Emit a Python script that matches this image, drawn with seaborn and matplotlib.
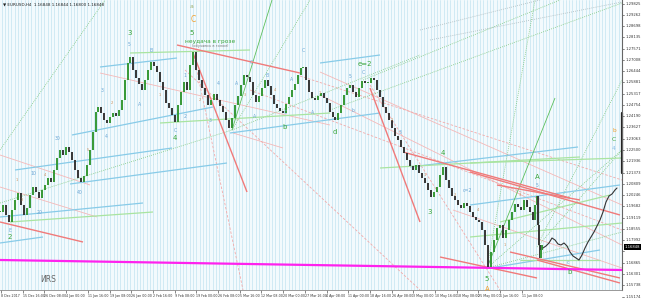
import numpy as np
import pandas as pd
import matplotlib
matplotlib.use("Agg")
import matplotlib.pyplot as plt
import seaborn as sns

# ---------------- data ----------------
bar_x = [0, 3, 6, 9, 12, 15, 18, 21, 24, 27, 30, 33, 36, 39, 42, 45, 48, 51, 54, 57,
         60, 63, 66, 69, 72, 75, 78, 81, 84, 87, 90, 93, 96, 98, 101, 104, 107, 110, 113, 116,
         119, 122, 125, 128, 130, 133, 136, 139, 142, 145, 148, 151, 154, 157, 160, 163, 166, 169, 172, 175,
         178, 181, 184, 187, 190, 193, 196, 199, 202, 205, 208, 211, 214, 217, 220, 223, 226, 229, 232, 235,
         238, 241, 244, 247, 250, 253, 256, 259, 262, 265, 268, 271, 274, 277, 280, 283, 286, 289, 292, 295,
         298, 301, 303, 306, 309, 312, 315, 318, 321, 324, 327, 330, 333, 335, 338, 341, 344, 347, 350, 353,
         356, 359, 362, 365, 368, 371, 374, 377, 380, 383, 386, 389, 392, 395, 398, 401, 404, 407, 410, 413,
         416, 419, 422, 425, 428, 431, 434, 437, 440, 443, 446, 449, 452, 455, 458, 461, 464, 467, 470, 473,
         476, 479, 482, 485, 488, 491, 494, 497, 500, 503, 506, 509, 512, 515, 518, 521, 524, 527, 530, 533,
         535, 537, 538, 539, 540, 541, 542]
closes = [1.194, 1.1975, 1.1925, 1.189, 1.195, 1.2, 1.2035, 1.1975, 1.1925, 1.196, 1.2025, 1.2065, 1.204, 1.201, 1.205, 1.2075, 1.211, 1.209, 1.215, 1.221,
          1.225, 1.2225, 1.2265, 1.224, 1.22, 1.215, 1.211, 1.209, 1.212, 1.2175, 1.225, 1.234, 1.244, 1.2465, 1.2435, 1.24, 1.2385, 1.2415, 1.2435, 1.242,
          1.245, 1.25, 1.26, 1.2685, 1.2715, 1.265, 1.261, 1.258, 1.255, 1.26, 1.265, 1.269, 1.267, 1.264, 1.259, 1.255, 1.2485, 1.246, 1.2425, 1.239,
          1.2475, 1.254, 1.259, 1.255, 1.2675, 1.274, 1.265, 1.26, 1.256, 1.2525, 1.2475, 1.25, 1.253, 1.25, 1.247, 1.244, 1.24, 1.236, 1.241, 1.2475,
          1.252, 1.2575, 1.2625, 1.2615, 1.259, 1.2525, 1.249, 1.252, 1.256, 1.26, 1.257, 1.2525, 1.248, 1.246, 1.2445, 1.2435, 1.248, 1.2515, 1.255, 1.258,
          1.2625, 1.266, 1.2665, 1.26, 1.254, 1.251, 1.25, 1.252, 1.2535, 1.251, 1.2485, 1.244, 1.2415, 1.24, 1.2435, 1.2475, 1.2525, 1.256, 1.2575, 1.254,
          1.2515, 1.256, 1.2595, 1.2585, 1.2585, 1.261, 1.26, 1.255, 1.2515, 1.2465, 1.2435, 1.24, 1.236, 1.232, 1.23, 1.2265, 1.2235, 1.22, 1.217, 1.215,
          1.2175, 1.2135, 1.211, 1.2085, 1.205, 1.2015, 1.204, 1.2065, 1.2125, 1.2165, 1.21, 1.206, 1.202, 1.2, 1.1975, 1.196, 1.1985, 1.197, 1.194, 1.1915,
          1.19, 1.189, 1.185, 1.1775, 1.1665, 1.174, 1.18, 1.186, 1.1875, 1.181, 1.185, 1.19, 1.194, 1.198, 1.1965, 1.195, 1.2, 1.1965, 1.194, 1.19,
          1.1975, 1.202, 1.1875, 1.1775, 1.171, 1.175, 1.1775]

proj_x = [543, 546, 549, 552, 555, 558, 561, 564, 567, 570, 573, 576, 579, 582, 585, 588, 591, 594, 597, 600, 603, 606, 609, 612, 615, 617]
proj_p = [1.176, 1.177, 1.1785, 1.181, 1.18, 1.178, 1.1775, 1.1785, 1.177, 1.174, 1.172, 1.171, 1.17, 1.1725, 1.176, 1.179,
          1.1815, 1.184, 1.187, 1.19, 1.194, 1.199, 1.202, 1.203, 1.205, 1.206]

magenta_x = [0, 622]
magenta_p = [1.17, 1.165]

date_pos = [1, 22.7, 44.4, 66.1, 87.8, 109.5, 131.2, 152.9, 174.6, 196.3, 218, 239.7, 261.4, 283.1,
            304.8, 326.5, 348.2, 369.9, 391.6, 413.3, 435, 456.7, 478.4, 500.1, 521.8]
date_labels = ["8 Dec 2017", "15 Dec 16:00", "26 Dec 08:00", "4 Jan 00:00", "11 Jan 16:00", "19 Jan 08:00",
               "26 Jan 00:00", "2 Feb 16:00", "9 Feb 08:00", "19 Feb 00:00", "26 Feb 08:00", "5 Mar 16:00",
               "12 Mar 08:00", "20 Mar 00:00", "27 Mar 16:00", "4 Apr 08:00", "11 Apr 00:00", "18 Apr 16:00",
               "26 Apr 08:00", "3 May 00:00", "10 May 16:00", "18 May 08:00", "25 May 00:00", "1 Jun 16:00",
               "11 Jun 08:00"]

price_ticks = [1.29825, 1.29262, 1.28698, 1.28135, 1.27571, 1.27008, 1.26444, 1.25881, 1.25317, 1.24754,
               1.24190, 1.23627, 1.23063, 1.22500, 1.21936, 1.21373, 1.20809, 1.20246, 1.19682, 1.19119,
               1.18555, 1.17992, 1.17428, 1.16865, 1.16301, 1.15738, 1.15174]
price_labels = ["%.5f" % v for v in price_ticks]
current_price = 1.1765
current_label = "1.16848"
header = "\u25bc EURUSD,H4  1.16848 1.16844 1.16800 1.16848"

red_lines = [(177, 1.2775, 300, 1.2635), (193, 1.2735, 247, 1.204), (370, 1.256, 420, 1.189),
             (470, 1.214, 620, 1.1925), (497, 1.2075, 580, 1.2), (537, 1.17, 620, 1.1585),
             (440, 1.1715, 537, 1.161), (510, 1.174, 620, 1.161), (0, 1.189, 83, 1.179),
             (403, 1.224, 570, 1.201)]
pink_lines = [(100, 1.2635, 330, 1.2375), (0, 1.2065, 97, 1.1915), (320, 1.264, 622, 1.1975),
              (320, 1.2525, 622, 1.1775), (233, 1.2335, 283, 1.226), (453, 1.195, 622, 1.166),
              (0, 1.2225, 90, 1.2075)]
pink_dash = [(193, 1.274, 243, 1.155), (185, 1.265, 420, 1.155), (370, 1.2575, 500, 1.155),
             (250, 1.255, 622, 1.185), (300, 1.262, 622, 1.21)]
blue_lines = [(15, 1.215, 172, 1.226), (70, 1.208, 227, 1.2185), (0, 1.1915, 143, 1.1985),
              (0, 1.1785, 43, 1.1815), (72, 1.2325, 213, 1.2465), (230, 1.2335, 380, 1.2435),
              (410, 1.2165, 578, 1.2265), (470, 1.1975, 620, 1.2075), (490, 1.166, 600, 1.175),
              (100, 1.2665, 177, 1.271), (320, 1.2685, 380, 1.2725)]
green_lines = [(10, 1.189, 153, 1.194), (380, 1.216, 580, 1.2215), (500, 1.189, 610, 1.2025),
               (520, 1.17, 600, 1.17), (130, 1.2735, 250, 1.275), (160, 1.2385, 330, 1.2435),
               (470, 1.1815, 622, 1.1885), (470, 1.2185, 622, 1.221)]
green_solid = [(487, 1.166, 555, 1.251), (232, 1.235, 272, 1.3)]
green_dot = [(0, 1.225, 105, 1.3), (232, 1.235, 310, 1.3), (232, 1.235, 420, 1.2725),
             (0, 1.1985, 232, 1.235), (487, 1.166, 535, 1.3), (487, 1.166, 622, 1.225),
             (487, 1.166, 622, 1.184), (363, 1.26, 560, 1.3), (330, 1.245, 622, 1.2985),
             (537, 1.1765, 622, 1.225), (540, 1.18, 622, 1.26)]
gray_dot = [(430, 1.28, 622, 1.299), (420, 1.285, 540, 1.3)]

green_labels = [(130, 1.2835, "3"), (192, 1.2835, "5"), (175, 1.231, "4"), (365, 1.268, "e=2"),
                (335, 1.234, "d"), (285, 1.2365, "b"), (443, 1.2235, "4"), (430, 1.194, "3"),
                (537, 1.2115, "A"), (487, 1.1605, "5"), (570, 1.164, "b"), (10, 1.1815, "2")]
blue_labels = [(129, 1.2775, "5"), (151, 1.275, "B"), (140, 1.248, "A"), (175, 1.235, "C"),
               (102, 1.255, "3"), (106, 1.2315, "4"), (58, 1.231, "30"), (80, 1.204, "40"),
               (40, 1.194, "20"), (33, 1.2135, "10"), (10, 1.1845, "E"), (185, 1.2625, "1"),
               (185, 1.2415, "2"), (210, 1.24, "3"), (218, 1.2585, "4"), (237, 1.2585, "A"),
               (251, 1.269, "C"), (255, 1.2415, "A"), (267, 1.2625, "B"), (285, 1.2435, "C"),
               (292, 1.2605, "A"), (303, 1.275, "C"), (313, 1.2435, "A"), (350, 1.2615, "5"),
               (353, 1.245, "b"), (363, 1.264, "C"), (467, 1.205, "c=2"), (400, 1.2335, "3"),
               (537, 1.2075, "5"), (568, 1.169, "c")]
small_labels = [(22, 1.2, "3"), (45, 1.2125, "4"), (88, 1.225, "5"), (112, 1.2485, "2"),
                (160, 1.2525, "1"), (200, 1.25, "2"), (245, 1.2525, "3"), (275, 1.255, "4"),
                (320, 1.2535, "1"), (392, 1.24, "2"), (425, 1.2125, "1"), (455, 1.2025, "2"),
                (478, 1.195, "4"), (520, 1.2025, "3"), (505, 1.1775, "1"), (17, 1.21, "1")]
side_labels = [(614, 1.235, "b", '#f0a030'), (614, 1.2305, "C", '#3aa63a'), (614, 1.226, "4", '#8cc0e8')]

# ---------------- figure ----------------
sns.set_theme(style="white")
plt.rcParams['font.family'] = ['DejaVu Sans']

fig = plt.figure(figsize=(6.5, 3.03), dpi=100)
fig.patch.set_facecolor('white')
ax = fig.add_axes([0, 13 / 303, 622 / 650, 290 / 303])
ax.set_facecolor('#f3fafd')
ax.set_xlim(0, 622)
ax.set_ylim(1.155, 1.3)

for xv in np.arange(1.5, 622, 3.3):
    ax.axvline(xv, color='#c3e4f1', lw=0.5, zorder=0)

def draw(lines, **kw):
    for x1, p1, x2, p2 in lines:
        ax.plot([x1, x2], [p1, p2], zorder=2, solid_capstyle='butt', **kw)

draw(pink_lines, color='#f5b8b8', lw=0.6)
draw(pink_dash, color='#f2a9a9', lw=0.6, ls=(0, (3, 2)))
draw(green_dot, color='#7cc87c', lw=0.6, ls=(0, (1, 1.5)))
draw(gray_dot, color='#aab8bb', lw=0.6, ls=(0, (1, 1.5)))
draw(blue_lines, color='#88cbe8', lw=0.9)
draw(green_lines, color='#a9e4a0', lw=0.9)
draw(green_solid, color='#5cbf5c', lw=0.6)
draw(red_lines, color='#f07a7a', lw=1.0)

sns.lineplot(x=magenta_x, y=magenta_p, color='#ff22ee', lw=1.6, ax=ax, zorder=3, estimator=None)

# candles
df = pd.DataFrame({"x": bar_x, "close": closes})
df["open"] = df["close"].shift(1).fillna(df["close"].iloc[0])
lo = df[["open", "close"]].min(axis=1)
hi = df[["open", "close"]].max(axis=1)
h = np.maximum(hi - lo, 0.0007)
cols = np.where(df["close"] >= df["open"], '#3a9a3a', '#3a3a3a')
ax.bar(df["x"], h, bottom=lo, width=1.7, color=cols, linewidth=0, zorder=4)

sns.lineplot(x=proj_x, y=proj_p, color='#333333', lw=0.8, ax=ax, zorder=5, estimator=None, sort=False)

for x, p, t in green_labels:
    ax.text(x, p, t, color='#3aa63a', fontsize=5, ha='center', va='center', zorder=6)
for x, p, t in blue_labels:
    ax.text(x, p, t, color='#6aa5d5', fontsize=3.3, ha='center', va='center', zorder=6)
for x, p, t in small_labels:
    ax.text(x, p, t, color='#c98a55', fontsize=2.6, ha='center', va='center', zorder=6)
for x, p, t, c in side_labels:
    ax.text(x, p, t, color=c, fontsize=4.2, ha='center', va='center', zorder=6)

ax.text(193, 1.29, "C", color='#f0a030', fontsize=5.5, ha='center', va='center', zorder=6)
ax.text(192, 1.297, "a", color='#a0b070', fontsize=4.5, ha='center', va='center', zorder=6)
ax.text(487, 1.1557, "A", color='#f0a030', fontsize=5, ha='center', va='center', zorder=6)
ax.text(210, 1.2795, "неудача в грозе", color='#3aa63a', fontsize=4.2, ha='center', va='center', zorder=6)
ax.text(210, 1.2768, "(обучаюсь в голом)", color='#777777', fontsize=2.5, ha='center', va='center', zorder=6)
ax.text(48, 1.1605, "ИRS", color='#666666', fontsize=5.5, ha='center', va='center', zorder=6)

# right-hand side price scale
ytr = ax.get_yaxis_transform()
half_step = 0.0028
for p, lab in zip(price_ticks, price_labels):
    ax.plot([1.0, 1.004], [p, p], transform=ytr, color='#555555', lw=0.5, clip_on=False)
    if abs(p - current_price) > half_step:
        ax.text(1.006, p, lab, transform=ytr, fontsize=2.7, color='#333333', va='center', ha='left', clip_on=False)
ax.plot([1.0, 1.0], [1.2435, 1.2135], transform=ytr, color='#222222', lw=1.6, clip_on=False)
ax.text(1.004, current_price, current_label, transform=ytr, fontsize=2.7, color='white', va='center', ha='left',
        clip_on=False, bbox=dict(facecolor='black', edgecolor='none', pad=0.6))

# axes styling
for s in ['top', 'left']:
    ax.spines[s].set_visible(False)
ax.spines['right'].set_color('#666666')
ax.spines['right'].set_linewidth(0.8)
ax.spines['bottom'].set_color('#888888')
ax.spines['bottom'].set_linewidth(0.6)
ax.set_yticks([])
ax.set_xticks(date_pos)
ax.set_xticklabels(date_labels, fontsize=2.3, ha='left', color='#333333')
ax.tick_params(axis='x', length=2, width=0.5, pad=1, color='#555555', bottom=True)
ax.set_xlabel("")
ax.set_ylabel("")

fig.text(3 / 650, 1 - 5 / 303, header, fontsize=3.0, color='#222222', va='center', ha='left')

fig.savefig("out.png", dpi=100)
